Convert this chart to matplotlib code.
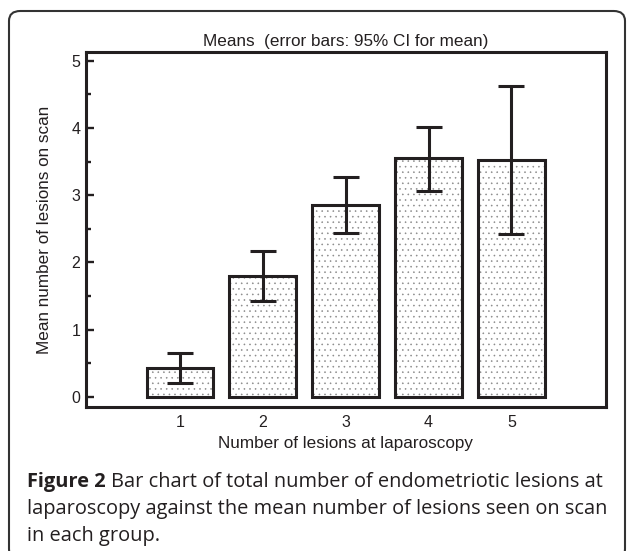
import numpy as np
import matplotlib
matplotlib.use("Agg")
from matplotlib import pyplot as plt
from matplotlib.patches import FancyBboxPatch
from matplotlib.ticker import MultipleLocator

groups = [1, 2, 3, 4, 5]
means = np.array([0.43, 1.80, 2.85, 3.55, 3.52])
ci_low = np.array([0.20, 1.42, 2.44, 3.07, 2.43])
ci_high = np.array([0.65, 2.17, 3.27, 4.02, 4.63])
yticks = [0, 1, 2, 3, 4, 5]

title = "Means  (error bars: 95% CI for mean)"
xlabel = "Number of lesions at laparoscopy"
ylabel = "Mean number of lesions on scan"
cap_bold = "Figure 2"
cap_lines = ["Bar chart of total number of endometriotic lesions at",
             "laparoscopy against the mean number of lesions seen on scan",
             "in each group."]

ink = "#231f20"
W, H = 627, 551
plt.rcParams["font.family"] = ["Liberation Sans", "DejaVu Sans"]
plt.rcParams["hatch.linewidth"] = 0.4

fig = plt.figure(figsize=(W / 100, H / 100), dpi=100)
ax = fig.add_axes([86 / W, 1 - 407 / H, (606 - 86) / W, (407 - 52) / H])

# dotted fill, then black outlines on top
ax.bar(groups, means, width=0.8, color="white", edgecolor="#8a8a8a",
       hatch="...", linewidth=0, zorder=2)
ax.bar(groups, means, width=0.8, fill=False, edgecolor=ink, linewidth=2.2, zorder=3)
ax.errorbar(groups, means, yerr=[means - ci_low, ci_high - means], fmt="none",
            ecolor=ink, elinewidth=2.2, capsize=9.7, capthick=2.2, zorder=4)

ax.set_xlim(-0.13, 6.14)
ax.set_ylim(-0.15, 5.13)
ax.set_xticks(groups)
ax.set_yticks(yticks)
ax.yaxis.set_minor_locator(MultipleLocator(0.5))
ax.tick_params(axis="x", length=0, pad=6, labelsize=11.5, labelcolor=ink)
ax.tick_params(axis="y", which="major", direction="in", length=6, width=1.7,
               pad=4, labelsize=11.5, labelcolor=ink, color=ink)
ax.tick_params(axis="y", which="minor", direction="in", length=3.5, width=1.7, color=ink)
for s in ax.spines.values():
    s.set_linewidth(2.2)
    s.set_color(ink)

ax.set_title(title, fontsize=12.3, color=ink, pad=4)
ax.set_xlabel(xlabel, fontsize=12.3, color=ink, labelpad=4)
ax.set_ylabel(ylabel, fontsize=12.3, color=ink, labelpad=14)

# rounded frame around the figure panel
frame = FancyBboxPatch((9 / W, -8 / H), (625 - 9) / W, (H - 11 + 8) / H,
                       boxstyle="round,pad=0,rounding_size=0.018",
                       transform=fig.transFigure, fill=False,
                       edgecolor="#333333", linewidth=1.5, clip_on=False)
fig.patches.append(frame)

# caption
cap_font = ["Open Sans", "DejaVu Sans"]
cap_size = 14.4
base = [1 - 487 / H, 1 - 514 / H, 1 - 541 / H]
t1 = fig.text(27 / W, base[0], cap_bold, fontsize=cap_size, family=cap_font,
              weight="bold", color=ink, va="baseline")
fig.canvas.draw()
x1 = t1.get_window_extent().x1
fig.text(x1 / W + 5 / W, base[0], cap_lines[0], fontsize=cap_size, family=cap_font,
         color=ink, va="baseline")
fig.text(27 / W, base[1], cap_lines[1], fontsize=cap_size, family=cap_font,
         color=ink, va="baseline")
fig.text(27 / W, base[2], cap_lines[2], fontsize=cap_size, family=cap_font,
         color=ink, va="baseline")

fig.savefig("out.png", dpi=100)
